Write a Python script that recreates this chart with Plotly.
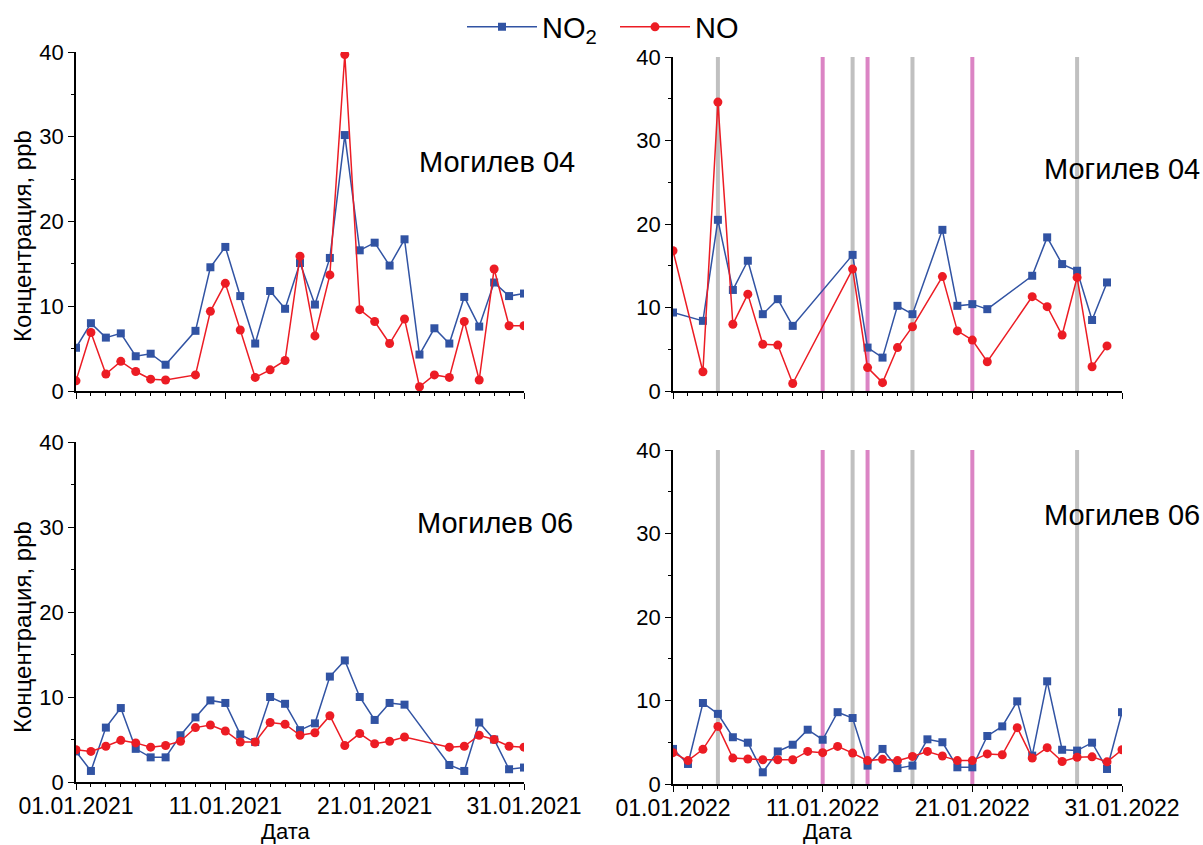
import plotly.graph_objects as go

# ---------------- data ----------------
# Могилев 04, January 2021 (day of month)
days_tl = [1, 2, 3, 4, 5, 6, 7, 9, 10, 11, 12, 13, 14, 15, 16, 17, 18, 19, 20,
           21, 22, 23, 24, 25, 26, 27, 28, 29, 30, 31]
no2_tl = [5.1, 8.0, 6.3, 6.8, 4.1, 4.4, 3.1, 7.1, 14.6, 17.0, 11.2, 5.6, 11.8, 9.7,
          15.1, 10.2, 15.7, 30.2, 16.6, 17.5, 14.8, 17.9, 4.3, 7.4, 5.6, 11.1, 7.6,
          12.8, 11.2, 11.5]
no_tl = [1.2, 6.9, 2.0, 3.5, 2.3, 1.4, 1.3, 1.9, 9.4, 12.7, 7.2, 1.6, 2.5, 3.6,
         15.9, 6.5, 13.7, 39.7, 9.6, 8.2, 5.6, 8.5, 0.5, 1.9, 1.6, 8.2, 1.3,
         14.4, 7.7, 7.7]

# Могилев 04, January 2022
days_tr = [1, 3, 4, 5, 6, 7, 8, 9, 13, 14, 15, 16, 17, 19, 20, 21, 22, 25, 26,
           27, 28, 29, 30]
no2_tr = [9.4, 8.4, 20.5, 12.1, 15.6, 9.2, 11.0, 7.8, 16.3, 5.2, 4.0, 10.2, 9.2,
          19.3, 10.2, 10.4, 9.8, 13.8, 18.4, 15.2, 14.4, 8.5, 13.0]
no_tr = [16.8, 2.3, 34.6, 8.0, 11.6, 5.6, 5.5, 0.9, 14.6, 2.8, 1.0, 5.2, 7.7,
         13.7, 7.2, 6.1, 3.5, 11.3, 10.1, 6.7, 13.6, 2.9, 5.4]

# Могилев 06, January 2021
days_bl = [1, 2, 3, 4, 5, 6, 7, 8, 9, 10, 11, 12, 13, 14, 15, 16, 17, 18, 19, 20,
           21, 22, 23, 26, 27, 28, 29, 30, 31]
no2_bl = [3.6, 1.3, 6.4, 8.7, 3.9, 2.9, 2.9, 5.5, 7.6, 9.6, 9.3, 5.6, 4.7, 10.0,
          9.2, 6.1, 6.9, 12.4, 14.3, 10.0, 7.3, 9.3, 9.1, 2.0, 1.3, 7.0, 5.0, 1.5, 1.7]
no_bl = [3.8, 3.6, 4.2, 4.9, 4.6, 4.1, 4.3, 4.8, 6.4, 6.7, 6.0, 4.7, 4.7, 7.0,
         6.8, 5.5, 5.8, 7.8, 4.3, 5.7, 4.5, 4.8, 5.3, 4.1, 4.2, 5.5, 5.0, 4.2, 4.1]

# Могилев 06, January 2022
days_br = list(range(1, 32))
no2_br = [4.2, 2.4, 9.7, 8.4, 5.6, 4.95, 1.4, 3.9, 4.7, 6.5, 5.3, 8.6, 7.9, 2.2,
          4.2, 1.9, 2.2, 5.35, 5.0, 2.0, 2.0, 5.75, 6.9, 9.9, 3.4, 12.3, 4.1, 4.0,
          4.95, 1.8, 8.6]
no_br = [3.75, 2.8, 4.15, 6.9, 3.1, 3.0, 2.9, 2.9, 2.9, 3.9, 3.75, 4.5, 3.7, 2.8,
         2.95, 2.8, 3.3, 3.9, 3.35, 2.8, 2.8, 3.6, 3.5, 6.75, 3.1, 4.35, 2.7, 3.2,
         3.25, 2.65, 4.1]

# marked days in January 2022
gray_days = [4, 13, 17, 28]
pink_days = [11, 14, 21]

tick_days = [1, 11, 21, 31]
y_ticks = [0, 10, 20, 30, 40]

# ---------------- styling ----------------
BLUE = "#3153A3"
RED = "#EC1C24"
GRAY = "#C0C0C0"
PINK = "#DB84C4"
FONT = "Liberation Sans, Arial, sans-serif"
W, H = 1203, 845


def d(year, day):
    return f"{year}-01-{day:02d}"


def px(x):
    return x / W


def py(y):
    return 1 - y / H


fig = go.Figure()

panels = [
    # (xaxis, yaxis, year, days, no2, no, showlabels, xdomain, ydomain)
    ("x", "y", 2021, days_tl, no2_tl, no_tl, False, (76, 524), (391, 52)),
    ("x2", "y2", 2022, days_tr, no2_tr, no_tr, False, (673, 1122), (391, 57)),
    ("x3", "y3", 2021, days_bl, no2_bl, no_bl, True, (76, 524), (782, 442)),
    ("x4", "y4", 2022, days_br, no2_br, no_br, True, (673, 1122), (784, 450)),
]

for i, (xa, ya, year, days, no2, no, showlab, xdom, ydom) in enumerate(panels):
    xs = [d(year, k) for k in days]
    fig.add_trace(go.Scatter(
        x=xs, y=no2, xaxis=xa, yaxis=ya, mode="lines+markers",
        name="NO<sub>2</sub>", legendgroup="no2", showlegend=(i == 0),
        line=dict(color=BLUE, width=1.5),
        marker=dict(symbol="square", size=8, color=BLUE),
    ))
    fig.add_trace(go.Scatter(
        x=xs, y=no, xaxis=xa, yaxis=ya, mode="lines+markers",
        name="NO", legendgroup="no", showlegend=(i == 0),
        line=dict(color=RED, width=1.5),
        marker=dict(symbol="circle", size=9, color=RED),
    ))

    sfx = "" if i == 0 else str(i + 1)
    xkey = "xaxis" + sfx
    ykey = "yaxis" + sfx
    fig.layout[xkey] = dict(
        type="date",
        domain=[px(xdom[0]), px(xdom[1])],
        anchor=ya,
        range=[d(year, 1), d(year, 31)],
        tickmode="array",
        tickvals=[d(year, k) for k in tick_days],
        tickformat="%d.%m.%Y",
        showticklabels=showlab,
        ticklabelstandoff=-3,
        ticks="outside", ticklen=6, tickwidth=1.3, tickcolor="black",
        minor=dict(ticks="outside", ticklen=3.5, tickwidth=1.2, tickcolor="black",
                   dtick=86400000, tick0=d(year, 1), showgrid=False),
        showline=True, linecolor="black", linewidth=1.5,
        showgrid=False, zeroline=False, automargin=False,
        tickfont=dict(family=FONT, size=23, color="black"),
        fixedrange=True,
    )
    fig.layout[ykey] = dict(
        domain=[py(ydom[0]), py(ydom[1])],
        anchor=xa,
        range=[0, 40],
        tickmode="array", tickvals=y_ticks,
        ticks="outside", ticklen=6, tickwidth=1.3, tickcolor="black",
        minor=dict(ticks="outside", ticklen=3.5, tickwidth=1.2, tickcolor="black",
                   dtick=5, tick0=0, showgrid=False),
        showline=True, linecolor="black", linewidth=1.5,
        showgrid=False, zeroline=False, automargin=False,
        tickfont=dict(family=FONT, size=22, color="black"),
        fixedrange=True,
    )

    if year == 2022:
        for days_list, col in ((gray_days, GRAY), (pink_days, PINK)):
            for k in days_list:
                fig.add_shape(type="line", xref=xa, yref=f"{ya} domain",
                              x0=d(year, k), x1=d(year, k), y0=0, y1=1,
                              line=dict(color=col, width=4), layer="below")

# station labels
labels = [("Могилев 04", 497, 162), ("Могилев 04", 1122, 169),
          ("Могилев 06", 495, 523), ("Могилев 06", 1122, 515)]
for txt, x, y in labels:
    fig.add_annotation(text=txt, xref="paper", yref="paper", x=px(x), y=py(y),
                       xanchor="center", yanchor="middle", showarrow=False,
                       font=dict(family=FONT, size=29, color="black"))

# y-axis titles (left column)
for y in (236, 627):
    fig.add_annotation(text="Концентрация, ppb", xref="paper", yref="paper",
                       x=px(22), y=py(y), xanchor="center", yanchor="middle",
                       textangle=-90, showarrow=False,
                       font=dict(family=FONT, size=24, color="black"))

# x-axis titles
for x in (285, 827):
    fig.add_annotation(text="Дата", xref="paper", yref="paper", x=px(x), y=py(845),
                       xanchor="center", yanchor="bottom", showarrow=False,
                       borderpad=0,
                       font=dict(family=FONT, size=22, color="black"))

fig.update_layout(
    width=W, height=H,
    margin=dict(l=0, r=0, t=0, b=0, autoexpand=False),
    paper_bgcolor="white", plot_bgcolor="white",
    font=dict(family=FONT, color="black"),
    legend=dict(orientation="h", x=px(462), xanchor="left", y=py(27),
                yanchor="middle", font=dict(family=FONT, size=29, color="black"),
                itemwidth=70, entrywidth=68, entrywidthmode="pixels",
                bgcolor="rgba(0,0,0,0)", tracegroupgap=0),
)

fig.write_html("out.html")
